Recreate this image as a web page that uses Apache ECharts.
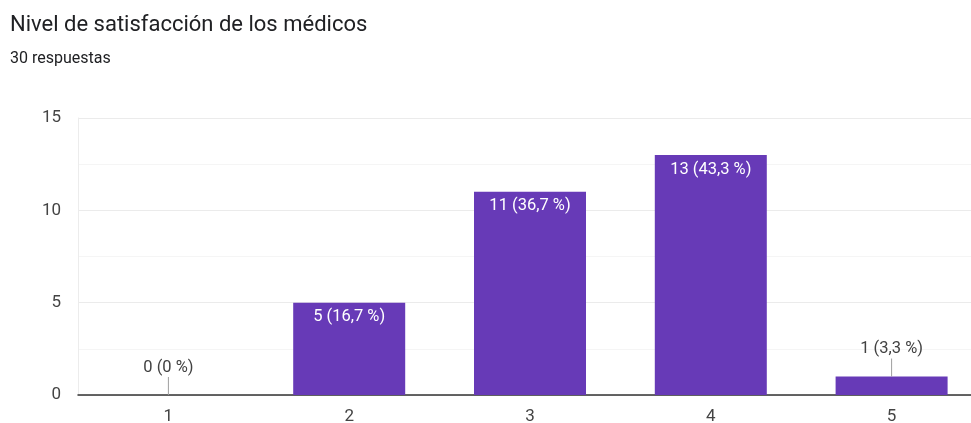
<!DOCTYPE html>
<html>
<head>
<meta charset="utf-8">
<script src="https://cdn.jsdelivr.net/npm/echarts@6/dist/echarts.min.js"></script>
<style>
  html, body { margin: 0; padding: 0; background: #fff; }
  #chart { width: 971px; height: 423px; }
</style>
</head>
<body>
<div id="chart"></div>
<script>
// Survey answers: rating scale 1-5
const categories = ['1', '2', '3', '4', '5'];
const counts = [0, 5, 11, 13, 1];
const percents = ['0', '16,7', '36,7', '43,3', '3,3'];
const yTicks = [0, 5, 10, 15];

const FONT = 'Roboto, "Noto Sans", sans-serif';
const PURPLE = '#673ab7';
// Bars this short get their label above with a leader line
const SMALL = 2;

const chart = echarts.init(document.getElementById('chart'));

const barData = counts.map((v, i) => {
  const text = v + ' (' + percents[i] + ' %)';
  const small = v < SMALL;
  return {
    value: v,
    label: small
      ? { show: true, position: 'top', distance: 19, color: '#424242', formatter: text }
      : { show: true, position: 'insideTop', distance: 6, color: '#ffffff', formatter: text }
  };
});

const leaderData = counts
  .map((v, i) => [i, v])
  .filter(d => d[1] < SMALL);

chart.setOption({
  animation: false,
  textStyle: { fontFamily: FONT },
  title: [
    {
      text: 'Nivel de satisfacción de los médicos',
      left: 5, top: 9,
      textStyle: { fontFamily: FONT, fontSize: 22, fontWeight: 'normal', color: '#202124' }
    },
    {
      text: '30 respuestas',
      left: 5, top: 46,
      textStyle: { fontFamily: FONT, fontSize: 16, fontWeight: 'normal', color: '#202124' }
    }
  ],
  // plot area runs slightly past the right edge of the canvas
  grid: { left: 78, top: 118, width: 904, height: 277, outerBoundsMode: 'none', containLabel: false },
  xAxis: {
    type: 'category',
    data: categories,
    axisLine: { show: true, lineStyle: { color: '#333333', width: 1.5 } },
    axisTick: { show: false },
    axisLabel: { color: '#444444', fontSize: 17, margin: 13, fontFamily: FONT },
    splitLine: { show: false }
  },
  yAxis: {
    type: 'value',
    min: yTicks[0],
    max: yTicks[yTicks.length - 1],
    interval: 5,
    axisLine: { show: true, lineStyle: { color: '#ececec', width: 1 } },
    axisTick: { show: false },
    axisLabel: { color: '#444444', fontSize: 17, margin: 17, fontFamily: FONT },
    splitLine: { show: true, lineStyle: { color: '#ebebeb', width: 1 } },
    minorTick: { show: false, splitNumber: 2 },
    minorSplitLine: { show: true, lineStyle: { color: '#f5f5f5', width: 1 } }
  },
  series: [
    {
      type: 'bar',
      data: barData,
      barWidth: 112,
      itemStyle: { color: PURPLE },
      label: { fontSize: 16.5, fontFamily: FONT },
      z: 2
    },
    {
      // leader lines from short bars up to their labels
      type: 'custom',
      data: leaderData,
      z: 3,
      renderItem: function (params, api) {
        const p = api.coord([api.value(0), api.value(1)]);
        return {
          type: 'line',
          shape: { x1: p[0], y1: p[1], x2: p[0], y2: p[1] - 18 },
          style: { stroke: '#9e9e9e', lineWidth: 1 }
        };
      }
    }
  ]
});
</script>
</body>
</html>
